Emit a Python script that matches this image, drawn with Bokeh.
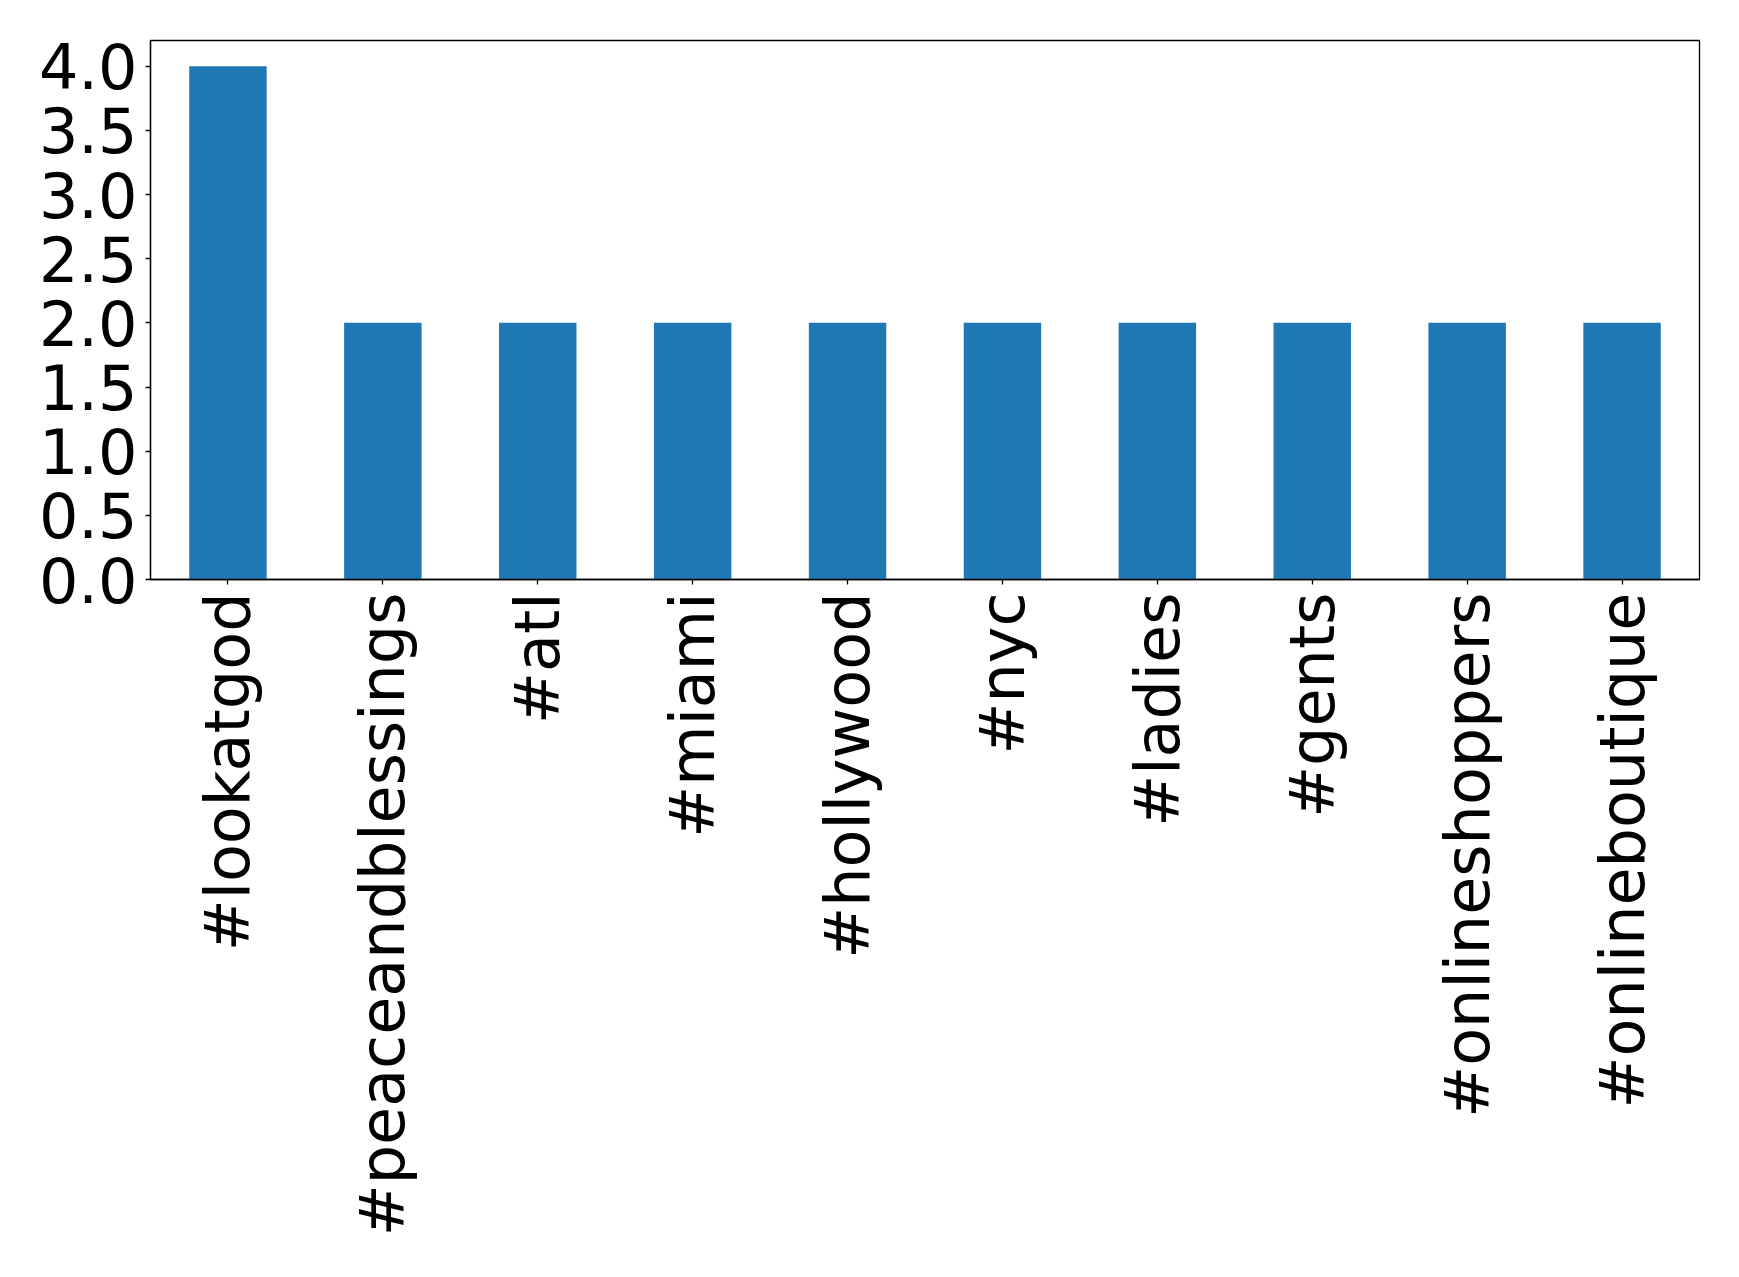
import math
from bokeh.plotting import figure
from bokeh.models import ColumnDataSource, FixedTicker, NumeralTickFormatter, Range1d, FactorRange
from bokeh.embed import file_html
from bokeh.resources import INLINE

hashtags = ["#lookatgod", "#peaceandblessings", "#atl", "#miami", "#hollywood",
            "#nyc", "#ladies", "#gents", "#onlineshoppers", "#onlineboutique"]
counts = [4, 2, 2, 2, 2, 2, 2, 2, 2, 2]
y_ticks = [0.0, 0.5, 1.0, 1.5, 2.0, 2.5, 3.0, 3.5, 4.0]

source = ColumnDataSource(dict(tag=hashtags, count=counts))

p = figure(x_range=FactorRange(factors=hashtags, range_padding=0),
           y_range=Range1d(0, 4.2),
           width=1723, height=1261, output_backend="svg", toolbar_location=None,
           min_border_left=150, min_border_right=24, min_border_top=40, min_border_bottom=682)
p.vbar(x="tag", top="count", width=0.5, source=source, color="#1f77b4", line_color=None)

p.xgrid.visible = False
p.ygrid.visible = False
p.outline_line_color = "black"
p.outline_line_width = 1.3

for ax in (p.xaxis[0], p.yaxis[0]):
    ax.axis_line_color = "black"
    ax.axis_line_width = 1.3
    ax.major_tick_line_color = "black"
    ax.major_tick_line_width = 1.3
    ax.major_tick_out = 5
    ax.major_tick_in = 0
    ax.minor_tick_line_color = None
    ax.major_label_text_font = "DejaVu Sans"
    ax.major_label_text_font_size = "62px"
    ax.major_label_text_color = "black"
    ax.major_label_standoff = 8

p.yaxis[0].ticker = FixedTicker(ticks=y_ticks)
p.yaxis[0].formatter = NumeralTickFormatter(format="0.0")
p.xaxis[0].major_label_orientation = math.pi / 2

open("out.html", "w").write(file_html(p, INLINE))
